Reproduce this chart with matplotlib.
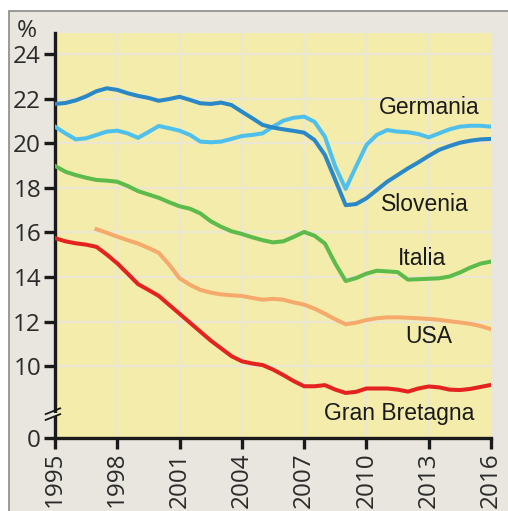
import matplotlib
matplotlib.use("Agg")
import matplotlib.pyplot as plt
from matplotlib.patches import Rectangle

# ---------------- data ----------------
years = [1995 + 0.5 * i for i in range(43)]  # 1995 .. 2016, half-year steps

germania = [20.74, 20.44, 20.17, 20.22, 20.37, 20.52, 20.56, 20.44, 20.24, 20.50,
            20.77, 20.67, 20.56, 20.37, 20.07, 20.04, 20.07, 20.19, 20.32, 20.37,
            20.44, 20.74, 21.01, 21.14, 21.19, 20.96, 20.29, 18.95, 17.95, 18.95,
            19.92, 20.37, 20.59, 20.52, 20.49, 20.41, 20.26, 20.44, 20.62, 20.74,
            20.78, 20.78, 20.74]
slovenia = [21.76, 21.80, 21.92, 22.10, 22.33, 22.46, 22.39, 22.24, 22.12, 22.03,
            21.90, 21.98, 22.08, 21.94, 21.79, 21.76, 21.82, 21.71, 21.41, 21.12,
            20.82, 20.70, 20.62, 20.55, 20.47, 20.14, 19.47, 18.35, 17.22, 17.27,
            17.53, 17.90, 18.27, 18.57, 18.87, 19.14, 19.43, 19.70, 19.87, 20.02,
            20.11, 20.17, 20.19]
italia = [18.98, 18.72, 18.57, 18.45, 18.35, 18.32, 18.27, 18.08, 17.85, 17.70,
          17.55, 17.35, 17.17, 17.06, 16.85, 16.50, 16.25, 16.05, 15.93, 15.78,
          15.65, 15.55, 15.60, 15.80, 16.02, 15.85, 15.50, 14.60, 13.82, 13.95,
          14.15, 14.28, 14.25, 14.22, 13.88, 13.90, 13.92, 13.94, 14.02, 14.20,
          14.42, 14.60, 14.69]
usa_years = years[4:]  # series starts in 1997
usa = [16.14, 15.98, 15.81, 15.65, 15.50, 15.30, 15.08, 14.55, 13.94, 13.65,
       13.42, 13.30, 13.22, 13.18, 13.15, 13.06, 12.98, 13.02, 12.98, 12.86,
       12.76, 12.58, 12.35, 12.10, 11.88, 11.95, 12.07, 12.15, 12.19, 12.19,
       12.17, 12.15, 12.12, 12.08, 12.02, 11.96, 11.90, 11.80, 11.66]
gran_bretagna = [15.74, 15.60, 15.51, 15.45, 15.35, 15.00, 14.61, 14.15, 13.68, 13.42,
                 13.15, 12.75, 12.35, 11.95, 11.55, 11.15, 10.80, 10.45, 10.22, 10.12,
                 10.05, 9.85, 9.60, 9.33, 9.10, 9.10, 9.15, 8.95, 8.80, 8.85,
                 9.00, 9.00, 9.00, 8.95, 8.86, 9.00, 9.09, 9.05, 8.95, 8.93,
                 8.98, 9.07, 9.16]

x_ticks = [1995, 1998, 2001, 2004, 2007, 2010, 2013, 2016]
y_ticks = [10, 12, 14, 16, 18, 20, 22, 24]
labels = ["Germania", "Slovenia", "Italia", "USA", "Gran Bretagna"]

# ---------------- style ----------------
BREAK_POS = 6.78      # where the "0" of the broken axis sits
YTOP = 24.94
C_FIG = "#e8e6de"
C_AX = "#f3ecab"
C_GRID = "#ebe7d2"
colors = {"Germania": "#4fc0ec", "Slovenia": "#2a88c6", "Italia": "#5cbb4a",
          "USA": "#f5aa6c", "Gran Bretagna": "#e4231f"}

plt.rcParams["font.family"] = ["Open Sans", "DejaVu Sans"]

fig = plt.figure(figsize=(5.08, 5.11), dpi=100)
fig.patch.set_facecolor("white")
bg = Rectangle((9 / 508, -0.1), 1.2, 1 - 11 / 511 + 0.1,
               transform=fig.transFigure, facecolor=C_FIG,
               edgecolor="#8a8a8a", linewidth=1.2, zorder=-10)
fig.add_artist(bg)

ax = fig.add_axes([55 / 508, 1 - 438 / 511, 436 / 508, 405 / 511])
ax.set_facecolor(C_AX)
ax.set_xlim(1995, 2016)
ax.set_ylim(BREAK_POS, YTOP)

for yt in y_ticks:
    ax.axhline(yt, color=C_GRID, lw=1.6, zorder=1)
for xt in x_ticks[1:-1]:
    ax.axvline(xt, color=C_GRID, lw=1.6, zorder=1)

lw = 2.9
ax.plot(years, germania, color=colors["Germania"], lw=lw, zorder=3, solid_joinstyle="round")
ax.plot(years, slovenia, color=colors["Slovenia"], lw=lw, zorder=4, solid_joinstyle="round")
ax.plot(years, italia, color=colors["Italia"], lw=lw, zorder=3, solid_joinstyle="round")
ax.plot(usa_years, usa, color=colors["USA"], lw=lw, zorder=3, solid_joinstyle="round")
ax.plot(years, gran_bretagna, color=colors["Gran Bretagna"], lw=lw, zorder=3, solid_joinstyle="round")

for s in ["top", "right"]:
    ax.spines[s].set_visible(False)
for s in ["left", "bottom"]:
    ax.spines[s].set_linewidth(2.4)
    ax.spines[s].set_color("#1a1a1a")

ax.set_xticks(x_ticks)
ax.set_xticklabels([str(x) for x in x_ticks], rotation=90, fontsize=17.5, color="#2a2a2a")
ax.set_yticks([BREAK_POS] + y_ticks)
ax.set_yticklabels(["0"] + [str(y) for y in y_ticks], fontsize=17.5, color="#2a2a2a")
ax.tick_params(axis="both", direction="out", length=8, width=2.4, color="#1a1a1a", pad=2)

# axis break: gap in spine plus two slashes
brk = 7.85
ax.add_patch(Rectangle((1994.85, brk - 0.07), 0.3, 0.14, facecolor=C_FIG,
                       edgecolor="none", clip_on=False, zorder=5))
ax.add_patch(Rectangle((1995.0, brk - 0.07), 0.2, 0.14, facecolor=C_AX,
                       edgecolor="none", clip_on=False, zorder=5))
for dy in (-0.13, 0.13):
    ax.plot([1994.55, 1995.25], [brk + dy - 0.13, brk + dy + 0.13], color="#1a1a1a",
            lw=1.3, clip_on=False, zorder=6)

fig.text(27 / 508, 1 - 31 / 511, "%", fontsize=17.5, color="#2a2a2a",
         ha="center", va="center")

label_pos = {"Germania": (2013.0, 21.62), "Slovenia": (2012.8, 17.27),
             "Italia": (2012.7, 14.85), "USA": (2013.0, 11.31),
             "Gran Bretagna": (2011.6, 7.9)}
for name in labels:
    x, y = label_pos[name]
    ax.text(x, y, name, fontsize=16.5, color="#1a1a1a", ha="center", va="center",
            family=["Liberation Sans", "DejaVu Sans"], zorder=7)

fig.savefig("out.png", dpi=100, facecolor=fig.get_facecolor())
